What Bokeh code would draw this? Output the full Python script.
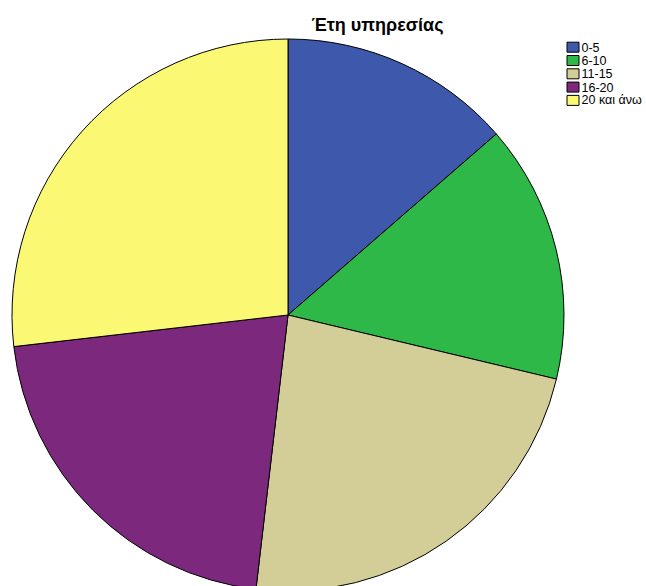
import numpy as np
from bokeh.plotting import figure
from bokeh.models import Range1d, ColumnDataSource
from bokeh.core.properties import value
from bokeh.embed import file_html
from bokeh.resources import INLINE

title = "Έτη υπηρεσίας"
categories = ["0-5", "6-10", "11-15", "16-20", "20 και άνω"]
percents = [13.6, 15.1, 23.1, 21.3, 26.8]
colors = ["#3E58AC", "#2EB848", "#D3CE97", "#7C287D", "#FBF873"]

W, H = 646, 586
p = figure(width=W, height=H, output_backend="svg", toolbar_location=None,
           x_range=Range1d(0, W), y_range=Range1d(0, H), min_border=0)
p.axis.visible = False
p.grid.visible = False
p.outline_line_color = None
p.background_fill_color = "white"

def sy(y):  # screen y -> data y
    return H - y

def sx(x):
    return x

vals = np.array(percents, dtype=float)
frac = vals / vals.sum()
cum = np.concatenate([[0], np.cumsum(frac)])
start = np.pi / 2 - 2 * np.pi * cum[:-1]
end = np.pi / 2 - 2 * np.pi * cum[1:]

cx, cy, r = sx(287.5), sy(314.5), 276
src = ColumnDataSource(dict(start=start, end=end, color=colors, cat=categories))
p.wedge(x=cx, y=cy, radius=r, start_angle="start", end_angle="end",
        direction="clock", fill_color="color", line_color="#000000",
        line_width=1, source=src)

# title
p.text(x=[sx(377)], y=[sy(24)], text=[title], text_font=value("Liberation Sans"),
       text_font_size="18px", text_font_style="bold", text_align="center",
       text_baseline="middle", text_color="#000000")

# legend
ly = [sy(46.7 + 13.3 * i) for i in range(len(categories))]
p.rect(x=[sx(572.5)] * len(categories), y=ly, width=12, height=10,
       fill_color=colors, line_color="#000000", line_width=1)
p.text(x=[sx(581)] * len(categories), y=ly, text=categories,
       text_font=value("Liberation Sans"), text_font_size="12.5px",
       text_align="left", text_baseline="middle", text_color="#000000")

open("out.html", "w").write(file_html(p, INLINE))
